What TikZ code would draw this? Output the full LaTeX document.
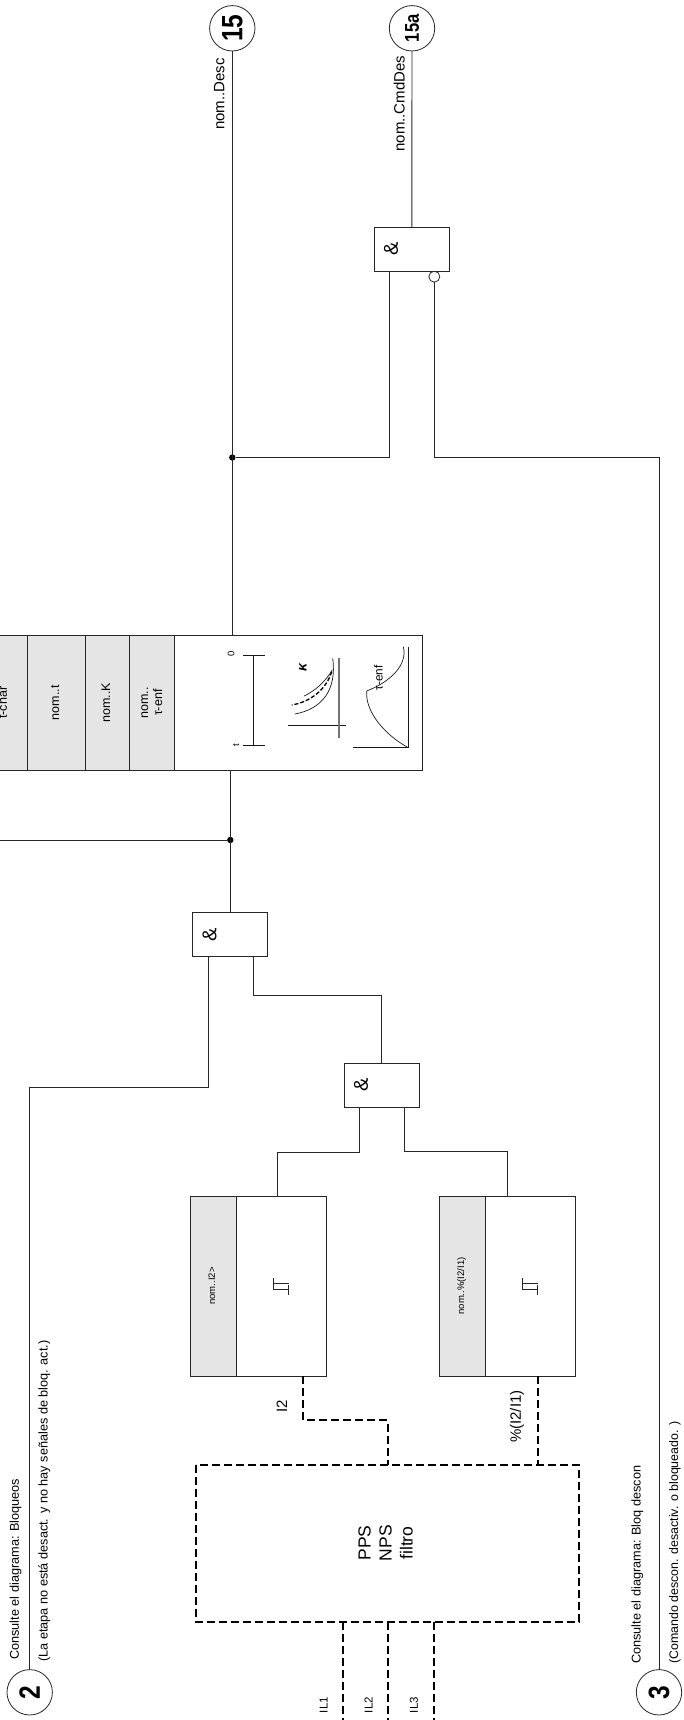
\documentclass[tikz,border=0pt]{standalone}
\usepackage{fontspec}
\setmainfont{Liberation Sans}
\usetikzlibrary{positioning}
\newcommand{\rottxt}[1]{\rotatebox{90}{\begin{tabular}{@{}c@{}}#1\end{tabular}}}
\newcommand{\numtxt}[1]{\rotatebox{90}{\scalebox{1}[1.2]{#1}}}
\newcommand{\hystsym}[1]{\draw[wire, shift={(#1)}] (-7.7,-8) -- (-7.7,3.6) (-7.7,-2.4) -- (7.7,-2.4) (-7.7,3.6) -- (7.7,3.6) (7.7,-1.4) -- (7.7,9.3);}
\begin{document}
\begin{tikzpicture}[
    x=1pt, y=-1pt,
    wire/.style={draw=black!85, line width=0.9pt},
    dashwire/.style={draw=black, line width=2pt, dash pattern=on 8pt off 4pt},
    thin line/.style={draw=black!90, line width=0.7pt},
    box/.style={rectangle, draw=black!85, line width=0.9pt, inner sep=0pt, outer sep=0pt},
    cell/.style={box, fill=black!10, minimum height=134.7pt, font=\fontsize{12.5}{14}\selectfont},
    setcell/.style={box, fill=black!10, minimum width=46pt, minimum height=180pt, font=\fontsize{9.5}{11}\selectfont},
    cmpbox/.style={box, minimum width=90pt, minimum height=180pt},
    gate/.style={box, minimum width=75pt, minimum height=44pt, text width=55.4pt, inner xsep=9.8pt,
      align=left, font=\fontsize{20}{22}\selectfont},
    conn/.style={circle, draw=black!85, line width=0.8pt, minimum size=45.4pt, inner sep=0pt, outer sep=0pt,
      font=\fontsize{24.5}{28}\selectfont\bfseries},
    inv/.style={circle, draw=black!85, line width=0.8pt, fill=white, minimum size=11pt, inner sep=0pt, outer sep=0pt},
    junc/.style={circle, fill=black, minimum size=6.4pt, inner sep=0pt, outer sep=0pt},
    lab/.style={rotate=90, inner sep=0pt, font=\fontsize{15}{17}\selectfont},
    note/.style={rotate=90, anchor=west, inner sep=0pt, font=\fontsize{12.7}{15}\selectfont},
    io/.style={rotate=90, inner sep=0pt, font=\fontsize{11.5}{14}\selectfont},
    tiny/.style={rotate=90, inner sep=0pt, font=\fontsize{9.5}{11}\selectfont}
  ]
    \useasboundingbox (0,0) rectangle (683,1720);
    \clip (0,0) rectangle (683,1720);

    \node[conn] (cfifteen) at (232.3,28.3) {\numtxt{15}};
    \node[conn, font=\fontsize{16.6}{20}\selectfont\bfseries] (cfifteena) at (412,28.3) {\numtxt{15a}};
    \node[conn] (ctwo)   at (29.7,1692.3) {\numtxt{2}};
    \node[conn] (cthree) at (659,1692.3)  {\numtxt{3}};

    \node[gate] (gcmd) at (411.8,249)    {\rotatebox{90}{\&}};
    \node[gate] (gone) at (230.3,934.5)  {\rotatebox{90}{\&}};
    \node[gate] (gtwo) at (381.8,1085.3) {\rotatebox{90}{\&}};
    \node[inv]  (ninv) at (434.3,276.7)  {};

    \node[cell, minimum width=47.4pt] (tchar) at (4,702.7) {\rottxt{t-char}};
    \node[cell, minimum width=57.3pt, right=0pt of tchar] (nomt) {\rottxt{nom..t}};
    \node[cell, minimum width=44.7pt, right=0pt of nomt]  (nomk) {\rottxt{nom..K}};
    \node[cell, minimum width=45pt, right=0pt of nomk]    (tenf) {\rottxt{nom..\\τ-enf}};
    \node[box, minimum width=248pt, minimum height=134.7pt, right=0pt of tenf] (charbox) {};

    \node[setcell] (seta) at (213,1286) {\rottxt{nom..I2>}};
    \node[cmpbox, right=0pt of seta] (cmpa) {};
    \node[setcell] (setb) at (462,1286) {\rottxt{nom..\%(I2/I1)}};
    \node[cmpbox, right=0pt of setb] (cmpb) {};

    \node[box, draw=none, minimum width=383pt, minimum height=157pt, font=\fontsize{17.5}{21}\selectfont] (filter) at (387.5,1543) {\rottxt{PPS\\NPS\\filtro}};
    \draw[dashwire] (filter.north west) rectangle (filter.south east);

    \node[junc] (jone) at (232.3,457.5) {};
    \node[junc] (jtwo) at (230.3,840) {};
    \coordinate (lefte) at (0,840);
    \coordinate (ilone) at (343,1720);
    \coordinate (iltwo) at (387.5,1720);
    \coordinate (ilthree) at (433.5,1720);
    \coordinate (cmpbout) at (538,1376);

    \draw[wire] (cfifteen.south) -- (cfifteen.south |- charbox.north);
    \draw[wire] (cfifteena.south) -- (gcmd.north);
    \draw[wire] ([xshift=15pt]gcmd.south west) |- (jone);
    \draw[wire] (ninv.south) -- ++(0,175.3) -| (cthree.north);
    \draw[wire] (gone.north) -- (gone.north |- charbox.south);
    \draw[wire] (jtwo) -- (lefte);
    \draw[wire] ([xshift=15.3pt]gone.south west) -- ++(0,130.6) -| (ctwo.north);
    \draw[wire] ([xshift=60.3pt]gone.south west) -- ++(0,38.6) -| (gtwo.north);
    \draw[wire] ([xshift=15.4pt]gtwo.south west) -- ++(0,45) -| ([xshift=-4pt]cmpa.north);
    \draw[wire] ([xshift=60pt]gtwo.south west) -- ++(0,44.4) -| ([xshift=-22.7pt]cmpb.north);

    \draw[dashwire] ([xshift=22.3pt]cmpa.south) -- ++(0,44) -| (filter.north);
    \draw[dashwire] (cmpbout) -- (cmpbout |- filter.north);
    \draw[dashwire] (ilone |- filter.south) -- (ilone);
    \draw[dashwire] (iltwo |- filter.south) -- (iltwo);
    \draw[dashwire] (ilthree |- filter.south) -- (ilthree);

    \hystsym{cmpa.center}
    \hystsym{cmpb.center}

    \draw[thin line] (253.3,655) -- (253.3,745) (243,655) -- (265,655) (243,745) -- (265,745);
    \draw[thin line] (288,725.3) -- (346,725.3);
    \draw[draw=black!55, line width=1.2pt] (339,658) -- (339,738.3);
    \draw[thin line] (332.7,658.3) .. controls (337,690) and (322,709) .. (295,714);
    \draw[thin line] (332.3,670) .. controls (325,682) and (316,690) .. (304.3,696);
    \draw[draw=black, line width=1.3pt, dash pattern=on 4pt off 2pt] (331.7,671.7) .. controls (326,690) and (310,702) .. (291.7,705);
    \draw[thin line] (408.3,646.7) -- (408.3,747.7) -- (353.3,747.7);
    \draw[thin line] (403.3,646.7) .. controls (408,665) and (390,682) .. (366.7,691);
    \draw[thin line] (366.7,691) .. controls (365,712) and (385,735) .. (408.3,747.7);

    \node[tiny] (lzero) at (231,654) {0};
    \node[tiny] (lt) at (236,745) {t};
    \node[rotate=90, inner sep=0pt, font=\fontsize{14}{16}\selectfont\bfseries\itshape] (lkappa) at (303,668) {κ};
    \node[rotate=90, inner sep=0pt, font=\fontsize{11.8}{14}\selectfont] (ltenf) at (378.5,678) {τ-enf};

    \node[lab] (ldesc) at (219.3,94) {nom..Desc};
    \node[lab] (lcmd) at (399.3,103.7) {nom..CmdDes};
    \node[lab] (litwo) at (281.8,1406) {I2};
    \node[lab] (lpct) at (517,1416.7) {\%(I2/I1)};

    \node[io] (lilone) at (323.6,1705) {IL1};
    \node[io] (liltwo) at (368.5,1705) {IL2};
    \node[io] (lilthree) at (413.8,1705) {IL3};

    \node[note] (ntwoa) at (15.7,1660) {Consulte el diagrama: Bloqueos};
    \node[note] (ntwob) at (44.3,1662) {(La etapa no está desact. y no hay señales de bloq. act.)};
    \node[note] (nthreea) at (637.3,1664) {Consulte el diagrama: Bloq descon};
    \node[note, font=\fontsize{12.4}{15}\selectfont] (nthreeb) at (675,1664) {(Comando descon. desactiv. o bloqueado. )};
  \end{tikzpicture}
\end{document}
